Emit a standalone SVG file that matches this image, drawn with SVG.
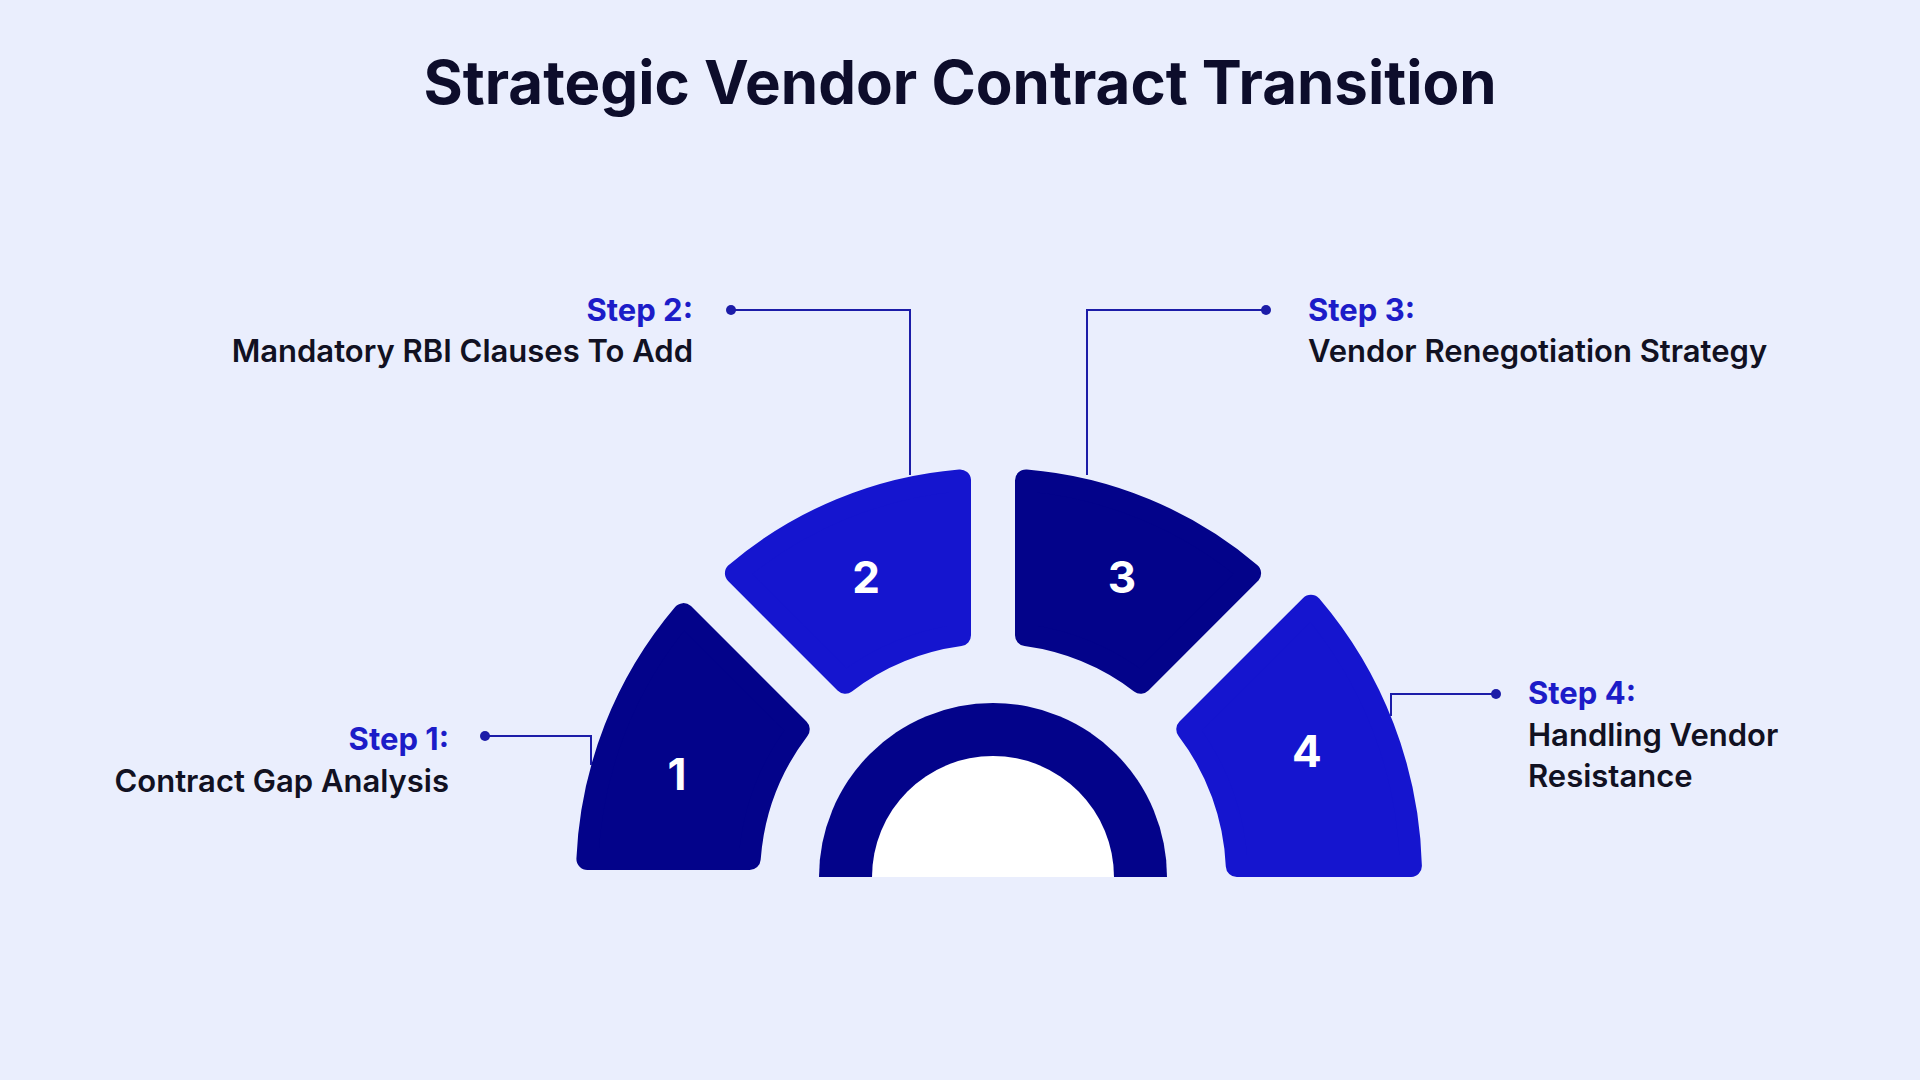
<svg xmlns="http://www.w3.org/2000/svg" width="1920" height="1080" viewBox="0 0 1920 1080">
<style>
.t{font-family:Inter,"Liberation Sans",sans-serif;font-weight:700}
.st{font-family:Inter,"Liberation Sans",sans-serif;font-weight:700;font-size:31px;fill:#1C1CC8}
.bd{font-family:Inter,"Liberation Sans",sans-serif;font-weight:600;font-size:31px;fill:#111122}
.num{font-family:Inter,"Liberation Sans",sans-serif;font-weight:700;font-size:44px;fill:#fff;text-anchor:middle}
.dk{fill:#03038A;stroke:#03038A;stroke-width:22;stroke-linejoin:round}
.br{fill:#1515CF;stroke:#1515CF;stroke-width:22;stroke-linejoin:round}
.cn{fill:none;stroke:#1C1CA8;stroke-width:2}
.dot{fill:#1C1CA8}
</style>
<rect width="1920" height="1080" fill="#EAEEFD"/>
<text class="t" x="960" y="104" font-size="60" text-anchor="middle" fill="#0D0D2B">Strategic Vendor Contract Transition</text>
<g id="center">
<path d="M819 877 A174 174 0 0 1 1167 877 Z" fill="#03038A"/>
<path d="M872 877 A121 121 0 0 1 1114 877 Z" fill="#fff"/>
</g>
<g id="seg1"><path class="dk" d="M587.4 859 A406 406 0 0 1 683.5 614.1 L798.7 729.3 A244 244 0 0 0 749.7 859 Z"/><text class="num" x="677" y="790">1</text></g>
<g id="seg2"><path class="br" d="M735.9 573.3 A398 398 0 0 1 960 480.4 L960 635.2 A244 244 0 0 0 845.3 682.7 Z"/><text class="num" x="866" y="593">2</text></g>
<g id="seg3"><path class="dk" d="M1026 480.4 A398 398 0 0 1 1250.1 573.3 L1140.7 682.7 A244 244 0 0 0 1026 635.2 Z"/><text class="num" x="1122" y="593">3</text></g>
<g id="seg4"><path class="br" d="M1310.9 605.7 A418 418 0 0 1 1410.9 866 L1236.8 866 A244 244 0 0 0 1187.3 729.3 Z"/><text class="num" x="1307" y="767">4</text></g>
<g id="connectors">
<polyline class="cn" points="485,736 591,736 591,765"/><circle class="dot" cx="485" cy="736" r="5"/>
<polyline class="cn" points="731,310 910,310 910,475"/><circle class="dot" cx="731" cy="310" r="5"/>
<polyline class="cn" points="1266,310 1087,310 1087,475"/><circle class="dot" cx="1266" cy="310" r="5"/>
<polyline class="cn" points="1496,694 1391,694 1391,716"/><circle class="dot" cx="1496" cy="694" r="5"/>
</g>
<g id="label1" text-anchor="end"><text class="st" x="449" y="750">Step 1:</text><text class="bd" x="449" y="792">Contract Gap Analysis</text></g>
<g id="label2" text-anchor="end"><text class="st" x="693" y="321">Step 2:</text><text class="bd" x="693" y="362">Mandatory RBI Clauses To Add</text></g>
<g id="label3"><text class="st" x="1308" y="321">Step 3:</text><text class="bd" x="1308" y="362">Vendor Renegotiation Strategy</text></g>
<g id="label4"><text class="st" x="1528" y="704">Step 4:</text><text class="bd" x="1528" y="746">Handling Vendor</text><text class="bd" x="1528" y="787">Resistance</text></g>
</svg>
